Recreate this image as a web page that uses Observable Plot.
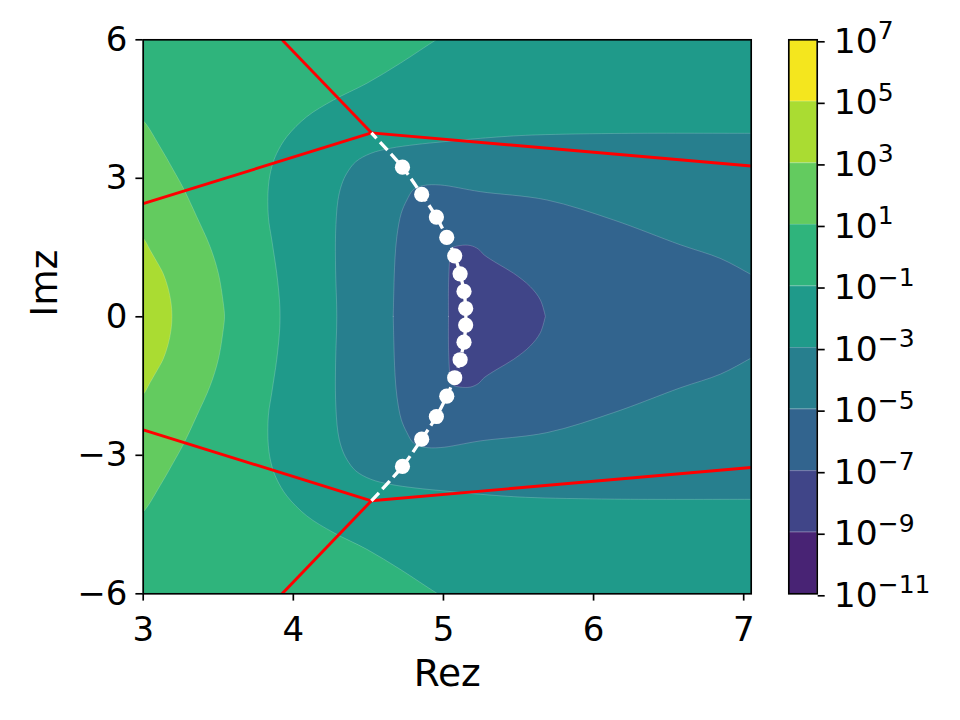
<!DOCTYPE html>
<html><head><meta charset="utf-8">
<script src="https://cdn.jsdelivr.net/npm/d3@7"></script>
<script src="https://cdn.jsdelivr.net/npm/@observablehq/plot@0.6"></script>
<style>
html,body{margin:0;padding:0;background:#fff;}
#wrap{position:relative;width:960px;height:720px;overflow:hidden;}
#main{position:absolute;left:0;top:0;}
#cbar{position:absolute;left:770px;top:0;}
</style></head><body>
<div id="wrap"><div id="main"></div><div id="cbar"></div></div>
<script>
// ---------- data ----------
const levelExponents = [-11, -9, -7, -5, -3, -1, 1, 3, 5, 7];
const xTicks = [3, 4, 5, 6, 7];
const yTicks = [-6, -3, 0, 3, 6];

// Contour boundaries, upper half (field symmetric about Im z = 0), from Im z = 0 upward
// 10^3..10^5 region (left)
const b8x = [3.195, 3.189, 3.169, 3.135, 3.095, 3.049, 3.002, 2.95];
const b8y = [0, 0.288, 0.613, 0.938, 1.176, 1.436, 1.696, 1.80];
// 10^1..10^3 region (left)
const b7x = [3.545, 3.537, 3.504, 3.449, 3.36, 3.271, 3.204, 3.115, 3.002, 2.94];
const b7y = [0, 0.282, 0.931, 1.507, 2.157, 2.772, 3.169, 3.673, 4.24, 4.36];
// 10^-1..10^1 region (left)
const b6x = [3.915, 3.911, 3.893, 3.86, 3.837, 3.837, 3.86, 3.893, 3.96, 4.093, 4.271, 4.493, 4.715, 4.96, 5.09];
const b6y = [0, 0.353, 0.931, 1.653, 2.157, 2.807, 3.24, 3.53, 3.89, 4.323, 4.685, 5.047, 5.48, 6.0, 6.25];
// 10^-5..10^-3 region (right), left boundary
const b4x = [4.293, 4.285, 4.285, 4.30, 4.325, 4.36, 4.42, 4.52, 4.65, 4.82, 5.0, 5.25, 5.55, 6.14, 7.055, 7.4];
const b4y = [0, 1.0, 1.8, 2.5, 2.85, 3.1, 3.35, 3.53, 3.64, 3.72, 3.78, 3.855, 3.92, 3.96, 3.964, 3.965];
// 10^-7..10^-5 region (right), upper boundary
const b3x = [4.669, 4.673, 4.68, 4.693, 4.722, 4.76, 4.804, 4.871, 4.982, 5.249, 5.693, 6.137, 6.58, 6.85, 7.055, 7.2];
const b3y = [0, 0.57, 1.22, 1.724, 2.231, 2.519, 2.746, 2.833, 2.844, 2.699, 2.519, 2.086, 1.55, 1.25, 0.9, 0.64];
// 10^-9..10^-7 region, upper boundary
const b2x = [5.037, 5.038, 5.049, 5.062, 5.115, 5.182, 5.235, 5.275, 5.36, 5.471, 5.582, 5.649, 5.682];
const b2y = [0, 0.786, 1.328, 1.479, 1.533, 1.533, 1.458, 1.328, 1.148, 0.931, 0.641, 0.353, 0];

// white points (upper half)
const dotX = [5.148, 5.137, 5.111, 5.075, 5.022, 4.953, 4.855, 4.727];
const dotY = [0.18, 0.55, 0.93, 1.32, 1.72, 2.16, 2.65, 3.24];
// junction where the dashed path ends
const junctionX = 4.52, junctionY = 3.985;

// red segments (upper half)
const redX1 = [3.0, 4.52, 4.52];
const redY1 = [2.45, 3.985, 3.985];
const redX2 = [4.52, 3.925, 7.05];
const redY2 = [3.985, 6.0, 3.265];

// ---------- building tables ----------
const bandColors = levelExponents.slice(0, -1).map((e, i) => {
  const lo = 10 ** e, hi = 10 ** levelExponents[i + 1];
  return d3.interpolateViridis((Math.log10((lo + hi) / 2) - levelExponents[0]) /
    (levelExponents[levelExponents.length - 1] - levelExponents[0]));
});

function mirrorRowsY(xs, ys) { // ordered by y from -top to +top
  const rows = [];
  for (let i = xs.length - 1; i >= 1; i--) rows.push({x: xs[i], y: -ys[i]});
  for (let i = 0; i < xs.length; i++) rows.push({x: xs[i], y: ys[i]});
  return rows;
}
function symRowsX(xs, ys) {
  return xs.map((x, i) => ({x, y1: -ys[i], y2: ys[i]}));
}
const band8 = mirrorRowsY(b8x, b8y);
const band7 = mirrorRowsY(b7x, b7y);
const band6 = mirrorRowsY(b6x, b6y);
const band4 = mirrorRowsY(b4x, b4y);
const band3 = symRowsX(b3x, b3y);
const band2 = symRowsX(b2x, b2y);

const dots = [];
dotX.forEach((x, i) => { dots.push({x, y: dotY[i]}); dots.push({x, y: -dotY[i]}); });
const path = [{x: junctionX, y: -junctionY}];
for (let i = dotX.length - 1; i >= 0; i--) path.push({x: dotX[i], y: -dotY[i]});
for (let i = 0; i < dotX.length; i++) path.push({x: dotX[i], y: dotY[i]});
path.push({x: junctionX, y: junctionY});

const red = [];
redX1.forEach((x, i) => {
  red.push({x1: x, y1: redY1[i], x2: redX2[i], y2: redY2[i]});
  red.push({x1: x, y1: -redY1[i], x2: redX2[i], y2: -redY2[i]});
});

const fmtMinus = d => d < 0 ? "\u2212" + (-d) : String(d);
const FONT = "'DejaVu Sans', sans-serif";
const edge = {stroke: "white", strokeOpacity: 0.28, strokeWidth: 0.7};

const main = Plot.plot({
  width: 770, height: 720,
  marginLeft: 142.7, marginRight: 19.3, marginTop: 39.3, marginBottom: 126.7,
  x: {domain: [3, 7.05], label: null},
  y: {domain: [-6, 6], label: null},
  style: {fontFamily: FONT, fontSize: "34px", color: "#000", background: "transparent", overflow: "visible"},
  marks: [
    Plot.frame({fill: bandColors[4], stroke: "none"}),
    Plot.areaX(band6, {y: "y", x1: 2.9, x2: "x", fill: bandColors[5], curve: "catmull-rom", clip: true, ...edge}),
    Plot.areaX(band7, {y: "y", x1: 2.9, x2: "x", fill: bandColors[6], curve: "catmull-rom", clip: true, ...edge}),
    Plot.areaX(band8, {y: "y", x1: 2.9, x2: "x", fill: bandColors[7], curve: "catmull-rom", clip: true, ...edge}),
    Plot.areaX(band4, {y: "y", x1: "x", x2: 7.5, fill: bandColors[3], curve: "catmull-rom", clip: true, ...edge}),
    Plot.areaY(band3, {x: "x", y1: "y1", y2: "y2", fill: bandColors[2], curve: "catmull-rom", clip: true, ...edge}),
    Plot.areaY(band2, {x: "x", y1: "y1", y2: "y2", fill: bandColors[1], curve: "catmull-rom", clip: true, ...edge}),
    Plot.link(red, {x1: "x1", y1: "y1", x2: "x2", y2: "y2", stroke: "#ff0000", strokeWidth: 2.9, clip: true}),
    Plot.line(path, {x: "x", y: "y", stroke: "white", strokeWidth: 3.3, strokeDasharray: "11,5", strokeLinecap: "butt", curve: "catmull-rom", clip: true}),
    Plot.dot(dots, {x: "x", y: "y", r: 7.6, fill: "white", stroke: "none"}),
    Plot.frame({stroke: "black", strokeWidth: 1.67}),
    Plot.axisX({ticks: xTicks, tickFormat: fmtMinus, tickSize: 7.3, tickPadding: 15.5, strokeWidth: 1.67, label: null}),
    Plot.axisY({ticks: yTicks, tickFormat: fmtMinus, tickSize: 7.3, tickPadding: 8.5, strokeWidth: 1.67, label: null}),
    Plot.text(["Rez"], {frameAnchor: "bottom", dy: 80, fontSize: 37.5, lineAnchor: "middle"}),
    Plot.text(["Imz"], {frameAnchor: "left", dx: -98.5, rotate: -90, fontSize: 37.5, lineAnchor: "middle"})
  ]
});
document.getElementById("main").appendChild(main);

const bands = levelExponents.slice(0, -1).map((e, i) => ({lo: 10 ** e, hi: 10 ** levelExponents[i + 1], color: bandColors[i]}));
const cbar = Plot.plot({
  width: 190, height: 720,
  marginLeft: 18.3, marginRight: 143.3, marginTop: 39.3, marginBottom: 126.7,
  x: {domain: [0, 1], axis: null},
  y: {type: "log", domain: [10 ** levelExponents[0], 10 ** levelExponents[levelExponents.length - 1]], label: null},
  style: {fontFamily: FONT, fontSize: "34.5px", color: "#000", background: "transparent", overflow: "visible"},
  marks: [
    Plot.rect(bands, {x1: 0, x2: 1, y1: "lo", y2: "hi", fill: "color"}),
    Plot.ruleY(bands.slice(1), {y: "lo", stroke: "white", strokeOpacity: 0.28, strokeWidth: 0.7}),
    Plot.frame({stroke: "black", strokeWidth: 1.67}),
    Plot.axisY({anchor: "right", ticks: levelExponents.map(e => 10 ** e),
      tickFormat: d => "10^" + Math.round(Math.log10(d)), tickSize: 7, tickPadding: 9.6, strokeWidth: 1.67, dy: 2, label: null})
  ]
});
document.getElementById("cbar").appendChild(cbar);
cbar.querySelectorAll('g[aria-label="y-axis tick label"] text').forEach(t => {
  const m = t.textContent.match(/^10\^(-?\d+)$/);
  if (!m) return;
  t.textContent = "10";
  const ts = document.createElementNS("http://www.w3.org/2000/svg", "tspan");
  ts.setAttribute("dy", "-13.5");
  ts.setAttribute("font-size", "25px");
  ts.textContent = m[1].replace("-", "\u2212");
  t.appendChild(ts);
});
</script>
</body></html>
